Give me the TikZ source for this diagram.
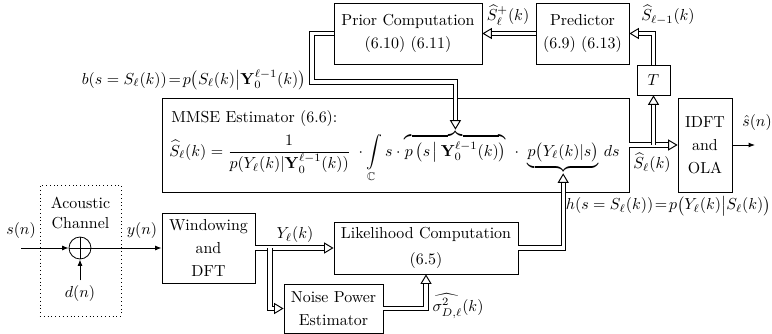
\documentclass[tikz,border=0pt]{standalone}
\usepackage{amsmath,amssymb}
\usetikzlibrary{arrows.meta}

\begin{document}
\begin{tikzpicture}[x=0.628pt, y=-0.628pt,
    bloc/.style={draw, line width=0.5pt, align=center, inner sep=0pt},
    fleche/.style={draw=black, line width=3.3pt, shorten >=5.8pt,
        postaction={draw=white, line width=1.9pt, shorten >=0pt,
            -{Triangle[length=6pt, width=7pt, color=black, fill=white, line width=0.6pt]}}},
    simple/.style={line width=0.5pt, -{Latex[length=4pt, width=3pt]}},
    formel/.style={inner sep=0pt, anchor=base west}]
    \useasboundingbox (0,0) rectangle (772,334);

    % Canal acoustique (cadre pointillé) avec le sommateur
    \node[draw, dotted, minimum width=50.9pt, minimum height=82.3pt] (canal) at (80.5,250.5) {};
    \node[align=center] (canaltxt) at (80.5,213) {Acoustic\\[1pt] Channel};
    \node[circle, draw, line width=0.5pt, minimum size=13.8pt, inner sep=0pt,
          path picture={\draw (path picture bounding box.north) -- (path picture bounding box.south)
                              (path picture bounding box.west) -- (path picture bounding box.east);}] (somme) at (80,248) {};
    \coordinate (entree) at (21,248);
    \node (dn) at (80,294) {$d(n)$};
    \node (sn) at (21,231) {$s(n)$};
    \node (yn) at (142,231) {$y(n)$};

    % Blocs de traitement
    \node[bloc, minimum width=58.4pt, minimum height=44pt] (fenetre) at (208.5,248) {Windowing\\[2.4pt] and\\[2.4pt] DFT};
    \node[bloc, minimum width=115.6pt, minimum height=32.7pt] (vrais) at (426,248) {Likelihood Computation\\[4.3pt] (6.5)};
    \node[bloc, minimum width=62.2pt, minimum height=30.8pt] (bruit) at (333.5,308.5) {Noise Power\\[2.4pt] Estimator};
    \node[bloc, minimum width=92.9pt, minimum height=38.3pt] (prior) at (408,33.5) {Prior Computation\\[2.4pt] (6.10) (6.11)};
    \node[bloc, minimum width=58.4pt, minimum height=38.3pt] (pred) at (582.5,33.5) {Predictor\\[2.4pt] (6.9) (6.13)};
    \node[bloc, minimum width=20.7pt, minimum height=18.8pt] (retard) at (653.5,80) {$T$};
    \node[bloc, minimum width=293.3pt, minimum height=59pt] (mmse) at (395.5,145) {};
    \node[bloc, minimum width=33.9pt, minimum height=59pt] (idft) at (705,145) {IDFT\\[2.4pt] and\\[2.4pt] OLA};

    % Estimateur MMSE : formule en morceaux (accolades)
    \node[formel] (titre) at (171,122) {MMSE Estimator (6.6):};
    \node[formel] (gauche) at (169,156) {$\displaystyle \widehat{S}_\ell(k) = \frac{1}{p(Y_\ell(k)|\mathbf{Y}_0^{\ell-1}(k))}\;\cdot \int\limits_{\mathbb{C}} s\cdot{}$};
    \node[formel] (apriori) at (gauche.base east) {$\displaystyle \overbrace{p\left(s\,\middle|\,\mathbf{Y}_0^{\ell-1}(k)\right)}$};
    \node[formel] (mult) at (apriori.base east) {$\displaystyle {}\;\cdot\;{}$};
    \node[formel] (vraisf) at (mult.base east) {$\displaystyle \underbrace{p\big(Y_\ell(k)|s\big)}$};
    \node[formel] (ds) at (vraisf.base east) {$\displaystyle \;ds$};

    % Étiquettes
    \node (splus) at (508,15) {$\widehat{S}_\ell^+(k)$};
    \node (sprec) at (668,15) {$\widehat{S}_{\ell-1}(k)$};
    \node[anchor=east, inner sep=0pt] (blab) at (306,80) {$b(s = S_\ell(k))\!=\!p\big(S_\ell(k)\big|\mathbf{Y}_0^{\ell-1}(k)\big)$};
    \node (sest) at (652,163) {$\widehat{S}_\ell(k)$};
    \node (shat) at (757,123) {$\hat{s}(n)$};
    \node (yl) at (295,235) {$Y_\ell(k)$};
    \node (sig) at (458,306) {$\widehat{\sigma^2_{D,\ell}}(k)$};
    \node[anchor=east, inner sep=0pt] (hlab) at (771,206) {$h(s = S_\ell(k))\!=\!p\big(Y_\ell(k)\big|S_\ell(k)\big)$};

    % Liaisons simples
    \coordinate (sortie) at (755,145);
    \draw[simple] (entree) -- (somme.west);
    \draw[simple] (dn) -- (somme.south);
    \draw[simple] (somme.east) -- (fenetre.west);
    \draw[simple] (idft.east) -- (sortie);

    % Liaisons doubles
    \coordinate (coin) at (312,82);
    \coordinate (separe) at (270,248);
    \coordinate (branche) at (retard.south |- mmse.east);
    \draw[fleche] (pred.west) -- (prior.east);
    \draw[fleche] (retard.north) |- (pred.east);
    \draw[fleche] (prior.west) -| (coin) -| (apriori.north);
    \draw[fleche] (mmse.east) -- (idft.west);
    \draw[fleche] (branche) -- (retard.south);
    \draw[fleche] (fenetre.east) -- (vrais.west);
    \draw[fleche] (separe) |- (bruit.west);
    \draw[fleche] (bruit.east) -| (vrais.south);
    \draw[fleche] (vrais.east) -| (vraisf.south);
\end{tikzpicture}
\end{document}
